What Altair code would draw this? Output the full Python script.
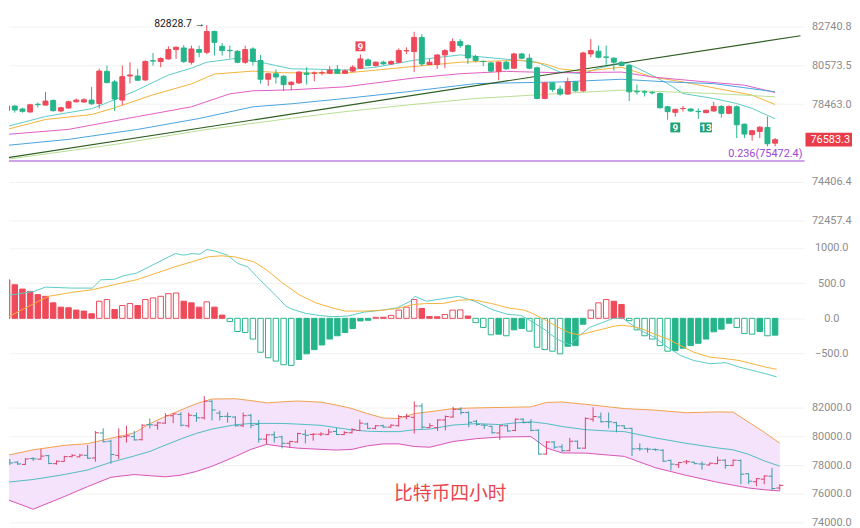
import altair as alt
import pandas as pd

# ---------------- 4h candles (index = bar number) ----------------
opens = [78133,78363,78206,78049,78460,78416,78663,78101,78258,78593,
         78580,78685,78501,80245,79670,78685,79992,79992,79777,80830,
         80789,80933,81453,81541,80750,81453,81303,82464,81635,81410,
         81359,80750,81486,80844,79815,80116,79976,79524,79616,80154,
         80140,80160,80137,80353,80137,80261,80423,80877,80568,80750,
         80656,80750,81380,81342,82133,80623,80623,81154,81359,81895,
         81674,81065,80800,80712,80245,80750,80423,81209,80971,80439,
         78771,79616,79276,79008,79670,79185,81209,81359,81040,80971,
         80750,80568,79150,79131,79100,79040,78327,78028,78225,78206,
         78080,78012,78101,78342,77976,78327,77399,76844,77017,77226,
         76400]
highs = [78431,78400,78274,78485,78555,79131,78720,78327,78650,78771,
         78790,79400,80385,80568,79777,80568,80750,80385,80860,81264,
         81027,81635,81635,81707,81674,81674,82828.7,82520,81818,81674,
         81413,81674,81580,81154,80154,80353,80046,79700,80261,80477,
         80245,80300,80530,80600,80370,80585,81180,80971,80800,80830,
         80860,81520,81580,82448,82315,80933,81190,81470,82077,82039,
         81746,81160,80844,80750,80800,80830,81270,81270,81209,80500,
         79670,79670,79454,79900,79720,81330,82039,81674,81674,81027,
         80800,80610,79524,79222,79160,79100,78380,78220,78363,78238,
         78238,78185,78593,78416,78395,78395,77430,77095,77290,77810,
         76666]
lows = [78065,78012,78012,78012,78290,78380,78065,78028,78222,78540,
        78540,78431,78238,79590,78101,78416,79578,79720,79720,80568,
        80477,80890,80933,80712,80623,81027,81190,81121,81121,80971,
        80695,80656,80568,79578,79454,79578,79169,79222,79560,79524,
        79707,80030,80100,80100,80100,80207,80370,80525,80500,80610,
        80610,80695,81209,80207,80530,80590,80385,80423,81303,81541,
        80656,80750,80530,80207,79761,80340,80370,80915,80370,78730,
        78730,79131,78920,78970,79131,79131,81027,80971,80568,80290,
        80530,78631,78990,78880,78990,78222,77630,77800,78065,78065,
        77680,77976,78065,77750,77930,76666,76666,76526,76666,76230,
        76230]
closes = [78363,78154,78081,78431,78440,78631,78117,78274,78593,78685,
          78700,78485,80261,79632,78739,79955,80046,79761,80789,80815,
          80955,81453,81580,80789,81486,81303,82464,81856,81397,81390,
          80750,81453,80789,79815,80116,79939,79524,79653,80207,80084,
          80160,80175,80315,80137,80277,80477,80933,80568,80750,80656,
          80789,81397,81400,82133,80656,80750,81154,81397,81895,81674,
          80988,80844,80789,80261,80750,80385,81209,80971,80423,78771,
          79616,79255,79008,79670,79185,81264,81397,81027,81027,80750,
          80568,79131,79131,79115,79077,78274,78065,78185,78238,78101,
          78065,78133,78342,77976,78342,77368,76875,77053,77242,76368,
          76583.3]

# ---------------- moving averages on price panel (bar index, value) ----------------
ma1_i = [0,5,11,14,17,21,24,26,30,33,37,40,44,48,53,59,65,69,72,75,77,80,81,84,86,88,92,95,97,100]
ma1_v = [77279,77803,78222,78700,79238,80046,80423,80750,80971,80750,80385,80369,80315,80477,80860,
         81154,80916,80750,80207,80116,80423,80695,80640,80030,79577,79039,78770,78501,78238,77683]
ma2_i = [0,5,11,14,19,24,27,32,36,44,52,59,67,70,72,75,80,84,88,92,97,100]
ma2_v = [77122,77646,77908,78269,78969,79561,80100,80261,80170,80154,80477,80750,80861,80656,80385,
         80245,80477,79938,79669,79346,78953,78447]
ma3_i = [0,8,17,24,29,32,37,44,53,59,65,72,80,84,90,96,100]
ma3_v = [76860,77122,77803,78323,79023,79184,79238,79400,79884,80116,80245,80170,80207,79938,79707,79491,79093]
ma4_i = [0,8,17,25,32,37,44,52,61,72,80,86,92,100]
ma4_v = [76283,76597,77122,77698,78323,78485,78770,79130,79577,79669,79814,79669,79577,79130]
ma5_i = [0,6,15,25,37,44,52,61,72,80,86,92,100]
ma5_v = [75565,75888,76390,77060,77714,78065,78416,78770,79039,79222,79130,79039,78861]
trend_i = [-0.13, 103.3]
trend_v = [75631, 82227]
fib_value = 75472.4
fib_text = "0.236(75472.4)"
last_price = 76583.3
high_text = "82828.7 →"

# ---------------- MACD ----------------
macd_hist = [547,477,416,383,337,313,220,159,150,117,103,65,
             243,267,126,182,210,182,267,290,313,351,360,243,220,159,234,159,46,
             -46,-187,-201,-295,-482,-561,-608,-660,-669,-585,-505,-445,-379,-295,-248,-201,-145,-37,-28,
             15,15,42,117,159,267,140,25,22,55,117,120,32,
             -61,-131,-234,-225,-248,-164,-145,-182,-411,-444,-467,-505,-397,-388,-84,
             117,220,267,243,197,
             -33,-164,-248,-295,-388,-467,-460,-425,-388,-355,-295,-192,-154,-70,-131,-215,-225,-187,-248,-239]
dif_i = [0,3.5,5,8.4,11.1,12.2,14,15.1,16.8,18.1,19.8,21.9,23,24.1,25.1,26,27,28.7,30,31.3,32.5,33.8,
         35.1,36.3,37.2,38.9,40.6,42.3,44.4,46.5,48.6,50.8,52.5,53.1,54.6,58.8,60.9,63.1,65.2,66.9,68.2,
         69.9,71.6,73.3,74.5,75.8,77.5,78.8,80.1,80.9,82.6,84.3,86,87.7,89.4,91.5,93.6,95.3,97,98.7,100.2]
dif_v = [323,383,444,430,430,547,556,603,641,711,805,921,898,921,912,978,959,898,781,734,594,453,
         313,173,126,70,42,23,33,89,112,150,243,313,243,313,243,126,56,42,-37,
         -154,-295,-379,-248,-131,-61,-5,9,-61,-178,-271,-412,-529,-599,-645,-631,-692,-739,-786,-832]
dea_i = [0,2,4.1,5.4,8.4,11.1,13.9,16.8,19.4,21.9,24.1,26.2,27.9,29.6,32.1,33.8,35.9,38,40.2,42.3,44,
         46.5,49,50.8,52.9,54.6,56.7,58.8,60.5,63.1,65.2,67.3,68.2,69.9,71.6,73.3,74.5,75.8,77.5,79.2,
         80.1,81.4,82.6,84.3,86,87.7,89.4,91.5,93.6,95.3,97,98.7,100.2]
dea_v = [9,126,243,313,369,407,477,547,641,734,805,875,889,875,805,688,500,337,220,150,103,
         103,117,140,196,210,210,257,267,210,150,117,80,-14,-117,-210,-234,-201,-154,-108,
         -98,-117,-145,-224,-295,-388,-482,-552,-575,-599,-645,-692,-725]

# ---------------- Bollinger bands ----------------
bb_i = [0,4,8,11,14,17,19,21,23,25,27,30,32,34,36,38,41,43,45,47,49,51,53,55,58,61,64,66,68,70,
        72,75,78,80,84,88,92,94,96,98,100]
bb_up = [78612,79069,79380,79500,79880,80250,80900,81400,81850,82300,82620,82640,82510,82350,82420,
         82480,82400,82200,81950,81600,81290,81260,81600,81730,81950,82000,82030,82050,82069,82380,
         82410,82250,82069,81952,81840,81660,81720,81700,81000,80300,79532]
bb_mid = [76766,76994,77340,77660,78200,78640,78958,79400,79830,80220,80520,80820,80910,80914,80914,
          80866,80780,80620,80460,80370,80341,80341,80470,80520,80800,80900,80830,80950,81030,80900,
          80700,80480,80380,80341,79900,79520,79200,79069,78750,78300,77921]
bb_lo = [75729,74920,75800,76500,77150,77340,77260,77181,77300,77560,77921,78600,79100,79450,79300,
         79186,79100,79050,79100,79350,79483,79483,79300,79250,79649,79850,79960,79980,79995,79200,
         78850,78840,78700,78612,77820,77280,76800,76600,76400,76280,76193]

title_text = "比特币四小时"

# ---------------- styling ----------------
RED = "#ee4a5a"
GREEN = "#26b58b"
BB_RED = "#dc4469"
BB_TEAL = "#3a9ca6"
PURPLE = "#9b45d3"
W = 804
H_TOP, H_MACD, H_BB = 226, 148, 158
X_DOM = [0.8906, 103.18]
FONT = "Roboto"
IND = dict(color="independent", fill="independent", stroke="independent")


def X(field):
    return alt.X(f"{field}:Q", scale=alt.Scale(domain=X_DOM, nice=False, zero=False), axis=None)


def make_axis(vals):
    return alt.Axis(orient="right", values=vals, format=".1f", title=None, grid=True,
                    gridColor="#f2f2f2", gridWidth=1, ticks=False, tickSize=0, domain=False,
                    labelAlign="center", labelPadding=27, labelFlush=False,
                    labelColor="#8c8c8c", labelFontSize=11, labelFont=FONT)


# ---------------- data frames ----------------
n = len(opens)
cdf = pd.DataFrame({"i": list(range(n)), "o": opens, "h": highs, "l": lows, "c": closes})
cdf["dir"] = ["up" if c >= o else "down" for o, c in zip(opens, closes)]

ma_rows = []
for name, ii, vv in [("m1", ma1_i, ma1_v), ("m2", ma2_i, ma2_v), ("m3", ma3_i, ma3_v),
                     ("m4", ma4_i, ma4_v), ("m5", ma5_i, ma5_v)]:
    for a, b in zip(ii, vv):
        ma_rows.append({"i": a, "v": b, "name": name})
madf = pd.DataFrame(ma_rows)
tdf = pd.DataFrame({"i": trend_i, "v": trend_v})

# ---------------- price panel ----------------
ytop = alt.Scale(type="log", domain=[71774, 83642], nice=False, zero=False)
ax_top = make_axis([72457.4, 74406.4, 78463.0, 80573.5, 82740.8])


def cs():
    return alt.Scale(domain=["up", "down"], range=[RED, GREEN])


def YT(field):
    return alt.Y(f"{field}:Q", scale=ytop, axis=ax_top)


ma_lines = alt.Chart(madf).mark_line(strokeWidth=1, clip=True).encode(
    x=X("i"), y=YT("v"),
    stroke=alt.Stroke("name:N", scale=alt.Scale(domain=["m1", "m2", "m3", "m4", "m5"],
                      range=["#5ccac5", "#f5b23a", "#e35bc4", "#4aa3df", "#b8de92"]), legend=None))
trend = alt.Chart(tdf).mark_line(color="#2d5e22", strokeWidth=1.2, clip=True).encode(x=X("i"), y=YT("v"))
fib = alt.Chart(pd.DataFrame({"v": [fib_value]})).mark_rule(color=PURPLE, strokeWidth=1).encode(y=YT("v"))
wicks = alt.Chart(cdf).mark_rule(strokeWidth=1, clip=True).encode(
    x=X("i"), y=YT("l"), y2="h:Q", stroke=alt.Stroke("dir:N", scale=cs(), legend=None))
bodies = alt.Chart(cdf).mark_bar(size=5, strokeWidth=1, clip=True).encode(
    x=X("i"), y=YT("o"), y2="c:Q",
    fill=alt.Fill("dir:N", scale=cs(), legend=None),
    stroke=alt.Stroke("dir:N", scale=cs(), legend=None))
hi_lbl = alt.Chart(pd.DataFrame({"i": [26], "v": [highs[26]], "t": [high_text]})).mark_text(
    align="right", baseline="middle", dx=-2, dy=-1, fontSize=10.5, color="#222222", font=FONT).encode(
    x=X("i"), y=YT("v"), text="t:N")

box1 = "M-1,-1L1,-1L1,1L-1,1Z"
box2 = "M-1,-0.83L1,-0.83L1,0.83L-1,0.83Z"
mk_red = pd.DataFrame({"i": [46], "v": [81635], "t": ["9"]})
mk_g1 = pd.DataFrame({"i": [87], "v": [77226], "t": ["9"]})
mk_g2 = pd.DataFrame({"i": [91], "v": [77226], "t": ["13"]})
markers = []
for dfm, col, shp, sz in [(mk_red, RED, box1, 100), (mk_g1, "#1fa277", box1, 100), (mk_g2, "#1fa277", box2, 144)]:
    markers.append(alt.Chart(dfm).mark_point(shape=shp, size=sz, filled=True, opacity=1, color=col)
                   .encode(x=X("i"), y=YT("v")))
    markers.append(alt.Chart(dfm).mark_text(color="white", fontSize=10, fontWeight="bold", font=FONT,
                                            baseline="middle", dy=0.5).encode(x=X("i"), y=YT("v"), text="t:N"))

fib_lbl = alt.Chart(pd.DataFrame({"v": [fib_value], "t": [fib_text]})).mark_text(
    align="right", baseline="bottom", dy=-2, fontSize=11, color=PURPLE, font=FONT).encode(
    x=alt.value(802), y=YT("v"), text="t:N")
badge = alt.Chart(pd.DataFrame({"v": [last_price]})).mark_point(
    shape="M-1,-0.3L1,-0.3L1,0.3L-1,0.3Z", size=2209, filled=True, opacity=1, color="#ea3b48").encode(
    x=alt.value(828.5), y=YT("v"))
badge_t = alt.Chart(pd.DataFrame({"v": [last_price], "t": [f"{last_price:.1f}"]})).mark_text(
    color="white", fontSize=11, font=FONT, align="center", baseline="middle").encode(
    x=alt.value(830), y=YT("v"), text="t:N")

top = alt.layer(ma_lines, trend, fib, wicks, bodies, hi_lbl, *markers, fib_lbl, badge, badge_t).properties(
    width=W, height=H_TOP).resolve_scale(**IND)

# ---------------- MACD panel ----------------
mdf = pd.DataFrame({"i": list(range(len(macd_hist))), "h": macd_hist})
signs, kinds = [], []
for k, hv in enumerate(macd_hist):
    s = "up" if hv >= 0 else "down"
    hollow = False
    if k > 0:
        prev = macd_hist[k - 1]
        if (prev >= 0) != (hv >= 0) or abs(hv) > abs(prev):
            hollow = True
    signs.append(s)
    kinds.append(s + ("_h" if hollow else "_f"))
mdf["sign"] = signs
mdf["kind"] = kinds

ymacd = alt.Scale(domain=[-889, 1193], nice=False, zero=False)
ax_macd = make_axis([-500, 0, 500, 1000])
mbars = alt.Chart(mdf).mark_bar(size=5.5, strokeWidth=1, clip=True).encode(
    x=X("i"), y=alt.Y("h:Q", scale=ymacd, axis=ax_macd), y2=alt.datum(0),
    fill=alt.Fill("kind:N", scale=alt.Scale(domain=["up_f", "up_h", "down_f", "down_h"],
                                            range=[RED, "#ffffff", GREEN, "#ffffff"]), legend=None),
    stroke=alt.Stroke("sign:N", scale=cs(), legend=None))
ldf = pd.DataFrame([{"i": a, "v": b, "name": "dif"} for a, b in zip(dif_i, dif_v)] +
                   [{"i": a, "v": b, "name": "dea"} for a, b in zip(dea_i, dea_v)])
mlines = alt.Chart(ldf).mark_line(strokeWidth=1, clip=True).encode(
    x=X("i"), y=alt.Y("v:Q", scale=ymacd, axis=ax_macd),
    stroke=alt.Stroke("name:N", scale=alt.Scale(domain=["dif", "dea"], range=["#5ccac5", "#f5b23a"]), legend=None))
macd = alt.layer(mbars, mlines).properties(width=W, height=H_MACD).resolve_scale(**IND)

# ---------------- Bollinger panel ----------------
bdf = pd.DataFrame({"i": bb_i, "up": bb_up, "mid": bb_mid, "lo": bb_lo})
ybb = alt.Scale(domain=[72963, 83888], nice=False, zero=False)
ax_bb = make_axis([74000, 76000, 78000, 80000, 82000])


def YB(field):
    return alt.Y(f"{field}:Q", scale=ybb, axis=ax_bb)


def bs():
    return alt.Scale(domain=["up", "down"], range=[BB_RED, BB_TEAL])


band = alt.Chart(bdf).mark_area(color="#f5e2fb", opacity=1, clip=True).encode(x=X("i"), y=YB("up"), y2="lo:Q")
l_up = alt.Chart(bdf).mark_line(color="#f2a04a", strokeWidth=1, clip=True).encode(x=X("i"), y=YB("up"))
l_mid = alt.Chart(bdf).mark_line(color="#4fbcc2", strokeWidth=1, clip=True).encode(x=X("i"), y=YB("mid"))
l_lo = alt.Chart(bdf).mark_line(color="#d752b7", strokeWidth=1, clip=True).encode(x=X("i"), y=YB("lo"))
ohlc_base = alt.Chart(cdf).transform_calculate(il="datum.i - 0.45", ir="datum.i + 0.45")
o_hl = ohlc_base.mark_rule(strokeWidth=1, clip=True).encode(
    x=X("i"), y=YB("l"), y2="h:Q", stroke=alt.Stroke("dir:N", scale=bs(), legend=None))
o_op = ohlc_base.mark_rule(strokeWidth=1, clip=True).encode(
    x=X("il"), x2="i:Q", y=YB("o"), stroke=alt.Stroke("dir:N", scale=bs(), legend=None))
o_cl = ohlc_base.mark_rule(strokeWidth=1, clip=True).encode(
    x=X("i"), x2="ir:Q", y=YB("c"), stroke=alt.Stroke("dir:N", scale=bs(), legend=None))
ttl = alt.Chart(pd.DataFrame({"t": [title_text]})).mark_text(
    fontSize=19, color="#e8454f", font="Noto Sans CJK SC", align="center", baseline="middle").encode(
    x=alt.value(446), y=alt.value(114), text="t:N")
bb = alt.layer(band, l_up, l_mid, l_lo, o_hl, o_op, o_cl, ttl).properties(
    width=W, height=H_BB).resolve_scale(**IND)

chart = alt.vconcat(top, macd, bb, spacing=0).resolve_scale(**IND).properties(
    padding=0).configure_view(stroke=None)
chart.save("out.html", embed_options={"renderer": "svg", "actions": False})
